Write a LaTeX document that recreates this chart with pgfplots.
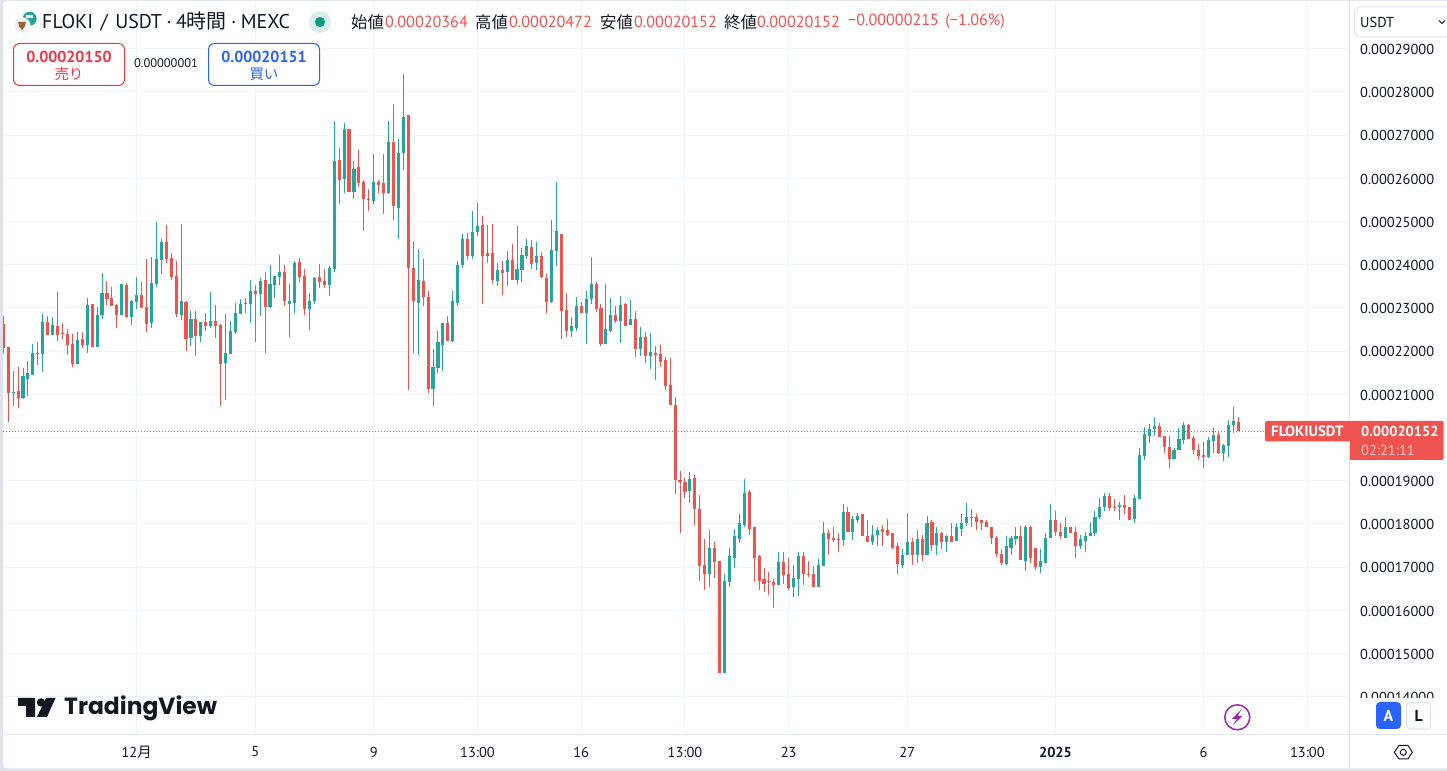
\documentclass[border=0pt]{standalone}
\usepackage{fontspec}
\usepackage{pgfplots}
\usepackage{pgfplotstable}
\pgfplotsset{compat=1.18}
\setmainfont{PT Sans}
\newfontfamily\cjk{Noto Sans CJK JP}
\newfontfamily\logofont{Poppins}
\definecolor{up}{HTML}{26A69A}
\definecolor{dn}{HTML}{EF5350}
\definecolor{gridc}{HTML}{F0F3FA}
\definecolor{sepc}{HTML}{E0E3EB}
\definecolor{ink}{HTML}{131722}
\definecolor{sell}{HTML}{F23645}
\definecolor{buy}{HTML}{2962FF}
\definecolor{purp}{HTML}{9C27B0}
\definecolor{live}{HTML}{089981}
\newcommand{\fs}[1]{\fontsize{#1}{#1}\selectfont}
% prices in units of 0.00001 USDT; k = 4-hour bar number
\pgfplotstableread{
k o h l c
0 22.63 22.81 21.96 22.07
1 22.10 22.10 20.36 21.04
2 21.03 21.54 20.73 21.05
3 21.08 21.63 20.68 20.92
4 20.92 21.61 20.89 21.42
5 21.35 21.77 20.96 21.49
6 21.45 22.17 21.45 21.96
7 21.93 22.21 21.68 21.96
8 21.93 22.86 21.52 22.67
9 22.67 22.81 22.37 22.37
10 22.37 22.79 22.37 22.60
11 22.58 23.37 22.23 22.37
12 22.42 22.65 22.28 22.40
13 22.40 22.51 21.91 22.14
14 22.17 22.40 21.63 21.70
15 21.70 22.44 21.70 22.26
16 22.28 22.44 22.07 22.14
17 22.14 23.23 21.96 23.07
18 23.09 23.09 22.10 22.10
19 22.10 23.02 22.10 22.84
20 22.84 23.81 22.74 23.35
21 23.35 23.62 23.07 23.21
22 23.23 23.48 23.04 23.04
23 23.07 23.09 22.54 22.84
24 22.84 23.55 22.84 23.55
25 23.53 23.58 22.77 22.79
26 22.79 23.18 22.60 23.16
27 23.14 23.72 22.98 23.30
28 23.30 23.60 23.00 23.00
29 23.02 24.13 22.44 22.63
30 22.65 24.18 22.54 23.58
31 23.55 24.99 23.48 24.13
32 24.11 24.60 23.79 24.53
33 24.53 24.92 24.04 24.13
34 24.16 24.27 23.65 23.72
35 23.74 24.09 22.79 22.86
36 22.84 24.94 22.72 23.16
37 23.14 23.16 22.00 22.28
38 22.30 22.93 22.12 22.74
39 22.74 22.93 21.89 22.35
40 22.35 22.67 22.21 22.67
41 22.67 22.88 22.47 22.58
42 22.58 23.37 22.54 22.70
43 22.70 23.07 22.30 22.58
44 22.60 22.63 20.73 21.70
45 21.73 22.86 20.87 21.96
46 21.93 22.70 21.93 22.47
47 22.44 23.11 22.40 22.88
48 22.87 23.21 22.87 23.10
49 23.12 23.24 22.89 23.10
50 23.08 23.65 22.64 23.38
51 23.38 23.54 22.20 23.33
52 23.33 23.70 22.82 23.63
53 23.65 23.82 21.96 23.03
54 23.03 24.00 23.01 23.56
55 23.54 23.75 23.24 23.75
56 23.72 24.23 23.54 23.82
57 23.82 24.00 23.05 23.17
58 23.08 23.56 22.33 23.17
59 23.12 24.09 22.89 24.05
60 24.07 24.16 23.61 23.72
61 23.75 23.89 22.84 22.98
62 22.98 23.35 22.50 23.17
63 23.15 23.72 23.08 23.70
64 23.72 24.02 23.47 23.61
65 23.63 23.89 23.47 23.52
66 23.52 23.98 23.28 23.93
67 23.89 27.33 23.82 26.39
68 26.43 26.69 25.41 25.95
69 25.99 27.27 25.65 27.15
70 27.15 27.15 25.69 25.69
71 25.69 26.39 25.51 26.22
72 26.25 26.66 25.81 25.90
73 25.92 25.97 24.79 25.53
74 25.53 25.76 25.25 25.51
75 25.48 26.57 25.41 25.92
76 25.92 25.97 25.65 25.85
77 25.88 26.57 25.18 25.67
78 25.67 27.33 25.65 26.85
79 26.85 27.71 25.04 25.37
80 25.32 26.92 24.60 26.59
81 26.59 28.42 26.20 27.43
82 27.47 27.47 21.11 23.93
83 23.93 24.56 21.96 23.15
84 23.12 24.37 21.92 23.65
85 23.63 24.14 23.05 23.26
86 23.26 23.38 21.02 21.13
87 21.13 22.06 20.74 21.64
88 21.62 22.47 21.50 22.20
89 22.15 22.64 21.55 22.64
90 22.66 22.82 22.24 22.24
91 22.24 23.38 22.22 23.15
92 23.12 24.09 23.05 24.00
93 24.00 24.72 23.93 24.60
94 24.60 24.74 24.12 24.19
95 24.20 25.24 24.13 24.76
96 24.76 25.43 24.67 24.90
97 24.92 25.13 23.09 24.20
98 24.27 24.92 24.04 24.20
99 24.27 24.94 23.55 23.65
100 23.62 24.04 23.51 23.88
101 23.88 24.09 23.30 23.81
102 23.83 24.32 23.51 24.11
103 24.11 24.48 23.65 23.65
104 23.65 24.90 23.55 23.90
105 23.88 24.39 23.60 24.23
106 24.20 24.60 24.13 24.43
107 24.41 24.57 23.90 24.02
108 24.04 24.53 23.88 24.20
109 24.20 24.29 23.69 23.72
110 23.69 23.79 22.88 23.14
111 23.14 25.04 23.11 24.34
112 24.32 25.92 23.97 24.78
113 24.71 24.71 22.28 22.93
114 22.95 23.35 22.33 22.47
115 22.47 22.79 22.33 22.58
116 22.54 23.25 22.47 23.04
117 23.04 23.14 22.88 22.88
118 22.88 23.39 22.17 23.21
119 23.21 24.18 23.09 23.55
120 23.55 23.60 22.91 22.98
121 23.00 23.09 22.12 22.17
122 22.17 23.55 22.17 22.51
123 22.47 23.23 22.44 22.84
124 22.84 23.04 22.65 22.70
125 22.70 23.28 22.19 23.07
126 23.09 23.11 22.58 22.58
127 22.60 23.18 22.60 22.74
128 22.74 22.93 21.86 22.05
129 22.05 22.56 21.89 22.33
130 22.33 22.44 21.73 21.89
131 21.89 22.42 21.59 21.98
132 21.96 22.12 21.33 21.91
133 21.93 22.14 21.63 21.75
134 21.79 21.86 21.10 21.19
135 21.22 21.84 20.75 20.75
136 20.75 20.94 18.70 19.02
137 19.02 19.23 17.78 18.98
138 18.98 19.07 18.61 18.75
139 18.77 19.21 18.49 19.05
140 19.07 19.14 17.98 18.35
141 18.35 18.68 16.69 17.02
142 17.04 17.64 16.46 16.85
143 16.85 17.87 16.53 17.45
144 17.45 17.57 16.74 17.11
145 17.13 17.15 14.55 14.55
146 14.55 16.83 14.55 16.67
147 16.65 17.45 16.55 17.25
148 17.20 17.89 16.97 17.71
149 17.66 18.22 17.55 18.01
150 17.98 19.05 17.94 18.72
151 18.75 18.79 17.75 17.89
152 17.92 17.92 16.65 17.22
153 17.25 17.27 16.48 16.69
154 16.72 16.97 16.42 16.62
155 16.67 16.88 16.35 16.65
156 16.65 16.72 16.05 16.58
157 16.58 17.36 16.58 17.11
158 17.11 17.36 16.60 16.81
159 16.83 17.22 16.46 16.51
160 16.53 17.04 16.30 16.74
161 16.72 17.34 16.32 17.25
162 17.25 17.34 16.58 16.85
163 16.85 17.15 16.76 16.83
164 16.85 17.02 16.53 16.53
165 16.55 17.18 16.55 17.04
166 17.02 18.05 17.02 17.80
167 17.78 17.85 17.29 17.66
168 17.68 17.92 17.57 17.62
169 17.66 17.78 17.36 17.64
170 17.62 18.45 17.48 18.28
171 18.28 18.40 17.82 17.82
172 17.82 18.19 17.62 18.12
173 18.10 18.26 18.01 18.19
174 18.22 18.22 17.71 17.71
175 17.73 18.10 17.59 17.59
176 17.59 17.98 17.52 17.75
177 17.75 17.92 17.48 17.87
178 17.89 17.98 17.50 17.82
179 17.85 18.12 17.73 17.75
180 17.78 17.78 17.41 17.45
181 17.50 17.55 16.85 17.08
182 17.06 17.43 16.97 17.29
183 17.27 18.26 17.27 17.57
184 17.57 17.68 17.04 17.27
185 17.27 17.85 17.10 17.66
186 17.66 17.75 17.15 17.29
187 17.29 18.19 17.29 18.01
188 18.05 18.10 17.38 17.52
189 17.52 17.92 17.29 17.78
190 17.80 17.82 17.43 17.57
191 17.57 17.75 17.36 17.71
192 17.71 18.03 17.59 17.59
193 17.61 18.03 17.61 17.92
194 17.89 18.24 17.73 18.03
195 18.01 18.49 17.96 18.15
196 18.15 18.35 17.92 18.17
197 18.17 18.22 17.87 18.05
198 18.10 18.10 17.85 18.03
199 18.05 18.10 17.92 17.92
200 17.94 17.94 17.54 17.68
201 17.68 17.71 17.24 17.31
202 17.31 17.43 17.04 17.10
203 17.08 17.73 17.06 17.50
204 17.45 17.73 17.27 17.68
205 17.66 17.94 17.52 17.71
206 17.71 17.96 17.17 17.17
207 17.15 17.98 16.90 17.92
208 17.92 17.96 17.10 17.22
209 17.45 17.45 16.94 17.01
210 17.01 17.41 16.87 17.13
211 17.10 17.80 17.10 17.68
212 17.68 18.47 17.68 18.08
213 18.08 18.31 17.71 17.82
214 17.82 18.03 17.66 17.71
215 17.68 18.15 17.68 17.92
216 17.92 17.94 17.80 17.80
217 17.82 17.92 17.22 17.48
218 17.48 17.75 17.41 17.64
219 17.61 17.82 17.36 17.73
220 17.71 18.05 17.71 17.80
221 17.78 18.31 17.73 18.17
222 18.17 18.60 18.12 18.40
223 18.38 18.71 18.29 18.64
224 18.64 18.71 18.31 18.36
225 18.38 18.57 18.31 18.36
226 18.40 18.50 18.10 18.43
227 18.43 18.66 18.24 18.36
228 18.38 18.40 18.10 18.10
229 18.12 18.66 18.03 18.61
230 18.57 19.75 18.57 19.59
231 19.57 20.24 19.47 20.08
232 20.03 20.31 19.87 20.19
233 20.19 20.47 20.03 20.26
234 20.26 20.33 20.01 20.01
235 20.03 20.03 19.64 19.78
236 19.78 20.03 19.29 19.50
237 19.50 19.75 19.50 19.71
238 19.71 20.22 19.71 19.96
239 19.94 20.36 19.84 20.29
240 20.29 20.31 19.96 19.96
241 19.98 20.03 19.61 19.71
242 19.71 19.84 19.47 19.57
243 19.59 19.89 19.29 19.54
244 19.54 20.01 19.52 19.94
245 19.91 20.22 19.64 20.05
246 20.05 20.15 19.61 19.64
247 19.64 19.84 19.45 19.82
248 19.80 20.40 19.54 20.29
249 20.29 20.71 20.10 20.38
250 20.364 20.472 20.152 20.152
}\candles
\begin{document}
\begin{tikzpicture}
\path[use as bounding box] (0,0) rectangle (1447bp,771bp);
\begin{scope}[x=1bp,y=-1bp,yshift=771bp]
\fill[sepc] (0,0) rectangle (1447,771);
\fill[white,rounded corners=4bp] (3,1) rectangle (1460,768.5);
\end{scope}
\begin{axis}[
  at={(3bp,37bp)},anchor=south west,scale only axis,
  width=1346bp,height=732bp,
  xmin=-0.05,xmax=272.42,ymin=13.137,ymax=30.081,
  axis line style={draw=none},major tick length=0pt,
  grid=major,grid style={color=gridc,line width=1bp},
  xtick={27,51,75,96,117,138,159,183,213,243,264},
  xticklabels={{12{\cjk 月}},5,9,13:00,16,13:00,23,27,{\textbf{2025}},6,13:00},
  ytick={14,15,16,17,18,19,20,21,22,23,24,25,26,27,28,29},
  yticklabels={0.00014000,0.00015000,0.00016000,0.00017000,0.00018000,0.00019000,{},0.00021000,0.00022000,0.00023000,0.00024000,0.00025000,0.00026000,0.00027000,0.00028000,0.00029000},
  yticklabel pos=right,
  yticklabel style={anchor=west,inner sep=0pt,font=\fs{14.5},text=ink,xshift=11bp,yshift=-0.7bp},
  xticklabel style={anchor=center,inner sep=0pt,font=\fs{14.5},text=ink,yshift=-18bp},
  clip=true,
  error bars/error mark=none,
]
\addplot[no markers,forget plot,draw=none,restrict expr to domain={\thisrow{c}-\thisrow{o}}{0:100},
  error bars/.cd,y dir=both,y explicit,error bar style={line width=1bp,color=up}]
  table[x=k,y=o,y error plus expr=\thisrow{h}-\thisrow{o},y error minus expr=\thisrow{o}-\thisrow{l}]{\candles};
\addplot[no markers,forget plot,draw=none,restrict expr to domain={\thisrow{c}-\thisrow{o}}{-100:0},
  error bars/.cd,y dir=both,y explicit,error bar style={line width=1bp,color=dn}]
  table[x=k,y=o,y error plus expr=\thisrow{h}-\thisrow{o},y error minus expr=\thisrow{o}-\thisrow{l}]{\candles};
\addplot[no markers,forget plot,draw=none,restrict expr to domain={\thisrow{c}-\thisrow{o}}{0:100},
  error bars/.cd,y dir=plus,y explicit,error bar style={line width=3.1bp,color=up}]
  table[x=k,y=o,y error plus expr=\thisrow{c}-\thisrow{o},y error minus expr=0]{\candles};
\addplot[no markers,forget plot,draw=none,restrict expr to domain={\thisrow{c}-\thisrow{o}}{-100:0},
  error bars/.cd,y dir=minus,y explicit,error bar style={line width=3.1bp,color=dn}]
  table[x=k,y=o,y error plus expr=0,y error minus expr=\thisrow{o}-\thisrow{c}]{\candles};
\addplot[color=dn,line width=0.8bp,dash pattern=on 1bp off 2bp,forget plot] coordinates {(-0.05,20.152) (272.42,20.152)};
\end{axis}
\begin{scope}[x=1bp,y=-1bp,yshift=771bp,every node/.style={inner sep=0pt,text=ink}]
% separators
\draw[sepc,line width=1bp] (1349.5,1) -- (1349.5,768);
\draw[sepc,line width=1bp] (3,734.5) -- (1447,734.5);
\fill[white] (1350,698.5) rectangle (1447,734);
% symbol line
\fill[up] (29.7,18.7) circle (7bp);
\fill[white] (26,15.5) -- (33,15.5) -- (33,18) -- (26,18) -- cycle;
\fill[gridc,draw=white,line width=1bp] (22,25.7) circle (8bp);
\fill[brown!80!black] (18,22) -- (26,22) -- (24.5,27) -- (22,30) -- (19.5,27) -- cycle;
\node[anchor=west,font=\fs{20}] at (42,22) {FLOKI\hspace{.38em}/\hspace{.38em}USDT\hspace{.22em}·\hspace{.22em}4{\cjk 時間}\hspace{.22em}·\hspace{.22em}MEXC};
\fill[up!18] (320,22) circle (11bp);
\fill[live] (320,22) circle (5bp);
\node[anchor=west,font=\fs{16.5}\cjk] at (351,22) {始値};
\node[anchor=west,font=\fs{16.2},text=dn] at (385,22) {0.00020364};
\node[anchor=west,font=\fs{16.5}\cjk] at (475,22) {高値};
\node[anchor=west,font=\fs{16.2},text=dn] at (509,22) {0.00020472};
\node[anchor=west,font=\fs{16.5}\cjk] at (600,22) {安値};
\node[anchor=west,font=\fs{16.2},text=dn] at (634,22) {0.00020152};
\node[anchor=west,font=\fs{16.5}\cjk] at (724,22) {終値};
\node[anchor=west,font=\fs{16.2},text=dn] at (757,22) {0.00020152};
\node[anchor=west,font=\fs{16.2},text=dn] at (848,22) {−0.00000215\hspace{0.4em}(−1.06\%)};
% buy / sell
\draw[sell,fill=white,line width=1bp,rounded corners=6bp] (13.5,43.5) rectangle (124.5,85.5);
\node[font=\bfseries\fs{16},text=sell] at (69,57) {0.00020150};
\node[font=\fs{14.5}\cjk,text=sell] at (69,74) {売り};
\node[font=\fs{12.5}] at (166,63) {0.00000001};
\draw[buy,fill=white,line width=1bp,rounded corners=6bp] (208.5,43.5) rectangle (319.5,85.5);
\node[font=\bfseries\fs{16},text=buy] at (264,57) {0.00020151};
\node[font=\fs{14.5}\cjk,text=buy] at (264,74) {買い};
% currency selector
\draw[sepc,fill=white,line width=1bp,rounded corners=6bp] (1354.5,7) rectangle (1460,37);
\node[anchor=west,font=\fs{14.5}] at (1360,22) {USDT};
\draw[ink,line width=1bp] (1439,20.5) -- (1442,23.5) -- (1445,20.5);
% last price labels
\fill[dn,rounded corners=2bp] (1265,421) rectangle (1352,441.5);
\fill[dn] (1345,421) rectangle (1349,441.5);
\fill[dn,rounded corners=2bp] (1350,421) rectangle (1443.7,460);
\fill[dn] (1350,421) rectangle (1356,460);
\node[anchor=west,font=\bfseries\fs{15},text=white] at (1271,431.5) {FLOKIUSDT};
\node[anchor=west,font=\bfseries\fs{14.5},text=white] at (1361,431) {0.00020152};
\node[anchor=west,font=\fs{14.5},text=white!70!dn] at (1361,450.5) {02:21:11};
% TradingView logo
\fill[ink] (18,698) -- (35,698) -- (35,717) -- (26,717) -- (26,706) -- (18,706) -- cycle;
\fill[ink] (41,702.5) circle (4.2bp);
\fill[ink] (46,698) -- (55.5,698) -- (47,717) -- (37,717) -- cycle;
\node[anchor=west,font=\fs{23.5}\logofont\selectfont\bfseries] at (64,708) {TradingView};
% lightning
\draw[purp,line width=1.5bp] (1237.3,717.3) circle (12.5bp);
\fill[purp] (1241.5,709.5) -- (1232,719) -- (1236.8,719) -- (1233,725) -- (1242.5,716) -- (1237.5,716) -- cycle;
% A / L
\fill[buy,rounded corners=4bp] (1376,702) rectangle (1401,729);
\node[font=\bfseries\fs{16},text=white] at (1388.5,715.5) {A};
\draw[sepc,fill=white,line width=1bp,rounded corners=4bp] (1406.7,702.5) rectangle (1430.7,729);
\node[font=\bfseries\fs{16}] at (1418.7,715.5) {L};
% settings
\draw[ink,line width=1bp] (1394.3,752.3) -- (1399,745.5) -- (1408,745.5) -- (1412.3,752.3) -- (1408,759) -- (1399,759) -- cycle;
\draw[ink,line width=1bp] (1403.3,752.3) circle (3bp);
\end{scope}
\end{tikzpicture}
\end{document}
